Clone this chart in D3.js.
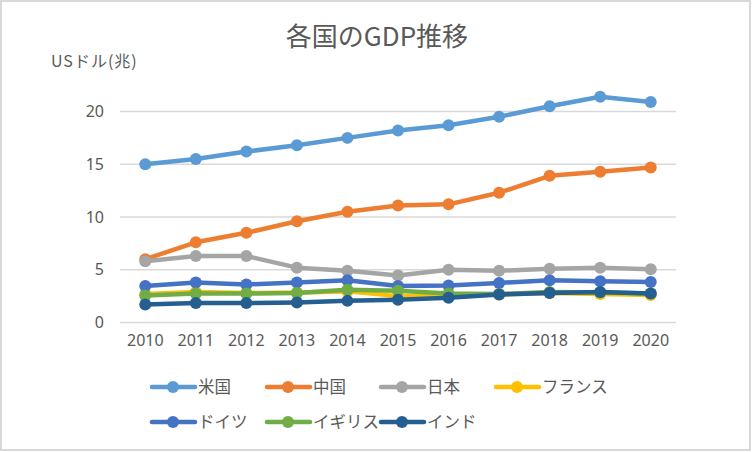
<!DOCTYPE html>
<html><head><meta charset="utf-8">
<script src="https://cdn.jsdelivr.net/npm/d3@7"></script>
<style>
html,body{margin:0;padding:0;background:#fff;}
svg{display:block;}
text{font-family:"Noto Sans CJK JP","Noto Sans",sans-serif;fill:#595959;}
</style></head>
<body><svg id="c" width="752" height="452"></svg>
<script>
const years = ["2010","2011","2012","2013","2014","2015","2016","2017","2018","2019","2020"];
const yTicks = [0,5,10,15,20];
const seriesNames = ["米国","中国","日本","フランス","ドイツ","イギリス","インド"];
const usa     = [15.0,15.5,16.2,16.8,17.5,18.2,18.7,19.5,20.5,21.4,20.9];
const china   = [6.0,7.6,8.5,9.6,10.5,11.1,11.2,12.3,13.9,14.3,14.7];
const japan   = [5.8,6.3,6.3,5.2,4.9,4.45,5.0,4.9,5.1,5.2,5.05];
const france  = [2.7,2.9,2.8,2.85,2.95,2.5,2.55,2.65,2.8,2.7,2.6];
const germany = [3.45,3.8,3.6,3.8,4.0,3.45,3.5,3.75,4.0,3.9,3.85];
const uk      = [2.55,2.75,2.75,2.8,3.1,3.0,2.75,2.7,2.9,2.85,2.75];
const india   = [1.7,1.85,1.85,1.9,2.05,2.15,2.35,2.65,2.8,2.9,2.75];
const colors  = ["#5B9BD5","#ED7D31","#A5A5A5","#FFC000","#4472C4","#70AD47","#255E91"];
const allValues = [usa,china,japan,france,germany,uk,india];

const svg = d3.select("#c");
svg.append("rect").attr("x",1).attr("y",1).attr("width",749).attr("height",449)
  .attr("fill","#fff").attr("stroke","#d9d9d9").attr("stroke-width",2);

const x = d3.scaleBand().domain(years).range([120,676]);
const y = d3.scaleLinear().domain([0,20]).range([322.5,111.5]);
const cx = d => x(d) + x.bandwidth()/2;

// gridlines
svg.append("g").selectAll("line").data(yTicks).join("line")
  .attr("x1",120).attr("x2",676).attr("y1",d=>y(d)).attr("y2",d=>y(d))
  .attr("stroke","#d9d9d9").attr("stroke-width",1.5);

// y axis labels
const yAxis = d3.axisLeft(y).tickValues(yTicks).tickSize(0).tickPadding(0);
const gy = svg.append("g").attr("transform","translate(104,0)").call(yAxis);
gy.select(".domain").remove();
gy.selectAll("text").style("font-size","16px").attr("fill","#595959")
  .style("font-family","'Noto Sans','Noto Sans CJK JP',sans-serif");

// x axis labels
const xAxis = d3.axisBottom(x).tickSize(0).tickPadding(0);
const gx = svg.append("g").attr("transform","translate(0,335)").call(xAxis);
gx.select(".domain").remove();
gx.selectAll("text").style("font-size","16px").attr("fill","#595959")
  .style("font-family","'Noto Sans','Noto Sans CJK JP',sans-serif");

// title
svg.append("text").attr("x",377).attr("y",46).attr("text-anchor","middle")
  .style("font-size","26px").text("各国のGDP推移");
svg.append("text").attr("x",51).attr("y",67)
  .style("font-size","16px").style("letter-spacing","1px").text("USドル(兆)");

// lines
const line = d3.line().x((d,i)=>cx(years[i])).y(d=>y(d));
allValues.forEach((vals,k)=>{
  const g = svg.append("g");
  g.append("path").datum(vals).attr("d",line).attr("fill","none")
    .attr("stroke",colors[k]).attr("stroke-width",4.5).attr("stroke-linejoin","round");
  g.selectAll("circle").data(vals).join("circle")
    .attr("cx",(d,i)=>cx(years[i])).attr("cy",d=>y(d)).attr("r",6)
    .attr("fill",colors[k]);
});

// legend
const legX = [152,267,381,496];
const legY = [387,422];
seriesNames.forEach((name,k)=>{
  const lx = legX[k%4], ly = legY[Math.floor(k/4)];
  const g = svg.append("g");
  g.append("line").attr("x1",lx).attr("x2",lx+43).attr("y1",ly).attr("y2",ly)
    .attr("stroke",colors[k]).attr("stroke-width",4.5).attr("stroke-linecap","round");
  g.append("circle").attr("cx",lx+21).attr("cy",ly).attr("r",6).attr("fill",colors[k]);
  g.append("text").attr("x",lx+46).attr("y",ly+6).style("font-size","16.5px").text(name);
});
</script></body></html>
